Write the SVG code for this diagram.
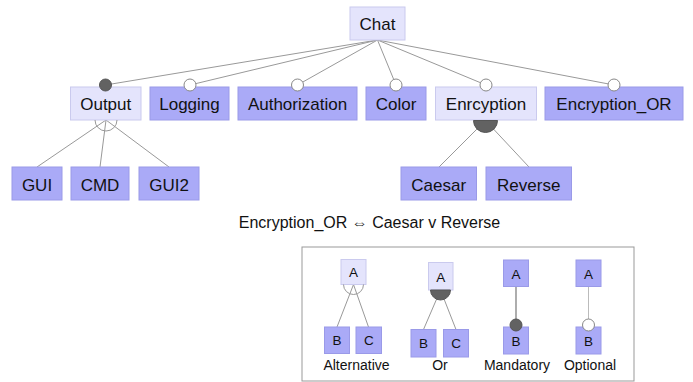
<svg xmlns="http://www.w3.org/2000/svg" width="693" height="382" viewBox="0 0 693 382">
<style>
.f{fill:#aaaaf7;stroke:#9a9ae8;stroke-width:1}
.l{fill:#e4e4fc;stroke:#cacaee;stroke-width:1}
.t{font-family:"Liberation Sans",Arial,sans-serif;font-size:17px;fill:#111;text-anchor:middle}
.s{font-family:"Liberation Sans",Arial,sans-serif;font-size:13.5px;fill:#111;text-anchor:middle}
.c{font-family:"Liberation Sans",Arial,sans-serif;font-size:14px;fill:#111;text-anchor:middle}
.e{stroke:#999;stroke-width:1;fill:none}
.opt{fill:#fff;stroke:#888;stroke-width:1}
.man{fill:#626262;stroke:#555;stroke-width:1}
</style>
<rect width="693" height="382" fill="#fff"/>
<g id="connectors">
<line class="e" x1="377.5" y1="40" x2="105.5" y2="85"/>
<line class="e" x1="377.5" y1="40" x2="190" y2="85"/>
<line class="e" x1="377.5" y1="40" x2="297.5" y2="85"/>
<line class="e" x1="377.5" y1="40" x2="396" y2="85"/>
<line class="e" x1="377.5" y1="40" x2="486" y2="85"/>
<line class="e" x1="377.5" y1="40" x2="614" y2="85"/>
<line class="e" x1="106" y1="120" x2="37" y2="167"/>
<line class="e" x1="106" y1="120" x2="100" y2="167"/>
<line class="e" x1="106" y1="120" x2="169" y2="167"/>
<line class="e" x1="485.5" y1="120.5" x2="439" y2="167"/>
<line class="e" x1="485.5" y1="120.5" x2="529" y2="167"/>
</g>
<g id="chat"><rect class="l" x="350" y="7" width="55" height="33"/><text class="t" x="377.5" y="30">Chat</text></g>
<g id="output"><rect class="l" x="70.5" y="87" width="70.5" height="33"/><text class="t" x="105.75" y="110">Output</text></g>
<g id="logging"><rect class="f" x="150" y="87" width="79" height="33"/><text class="t" x="189.5" y="110">Logging</text></g>
<g id="authorization"><rect class="f" x="238" y="87" width="119" height="33"/><text class="t" x="297.5" y="110">Authorization</text></g>
<g id="color"><rect class="f" x="366" y="87" width="60" height="33"/><text class="t" x="396" y="110">Color</text></g>
<g id="enrcyption"><rect class="l" x="435.5" y="87" width="101" height="33"/><text class="t" x="486" y="110">Enrcyption</text></g>
<g id="encryption_or"><rect class="f" x="545" y="87" width="138" height="33"/><text class="t" x="614" y="110">Encryption_OR</text></g>
<g id="gui"><rect class="f" x="12" y="167" width="50" height="33"/><text class="t" x="37" y="191">GUI</text></g>
<g id="cmd"><rect class="f" x="71" y="167" width="58" height="33"/><text class="t" x="100" y="191">CMD</text></g>
<g id="gui2"><rect class="f" x="139" y="167" width="60" height="33"/><text class="t" x="169" y="191">GUI2</text></g>
<g id="caesar"><rect class="f" x="401" y="167" width="75.5" height="33"/><text class="t" x="438.75" y="191">Caesar</text></g>
<g id="reverse"><rect class="f" x="486" y="167" width="85.5" height="33"/><text class="t" x="528.75" y="191">Reverse</text></g>
<g id="decorators">
<path class="e" d="M95,120 A11,11 0 0 0 117,120"/>
<path class="man" d="M473.5,120.5 A12,12 0 0 0 497.5,120.5 Z"/>
<circle class="man" cx="105.5" cy="85" r="6"/>
<circle class="opt" cx="190" cy="85" r="6"/>
<circle class="opt" cx="297.5" cy="85" r="6"/>
<circle class="opt" cx="396" cy="85" r="6"/>
<circle class="opt" cx="486" cy="85" r="6"/>
<circle class="opt" cx="614" cy="85" r="6"/>
</g>
<text class="t" x="369.5" y="228" style="font-size:16px">Encryption_OR ⇔ Caesar v Reverse</text>
<g id="legend">
<rect x="302" y="247" width="332" height="134" fill="#fff" stroke="#999" stroke-width="1"/>
<g id="legend-alternative">
<line class="e" x1="353.5" y1="284.5" x2="337" y2="327"/>
<line class="e" x1="353.5" y1="284.5" x2="368.5" y2="327"/>
<rect class="l" x="341" y="259.5" width="25" height="25"/><text class="s" x="353.5" y="277">A</text>
<path class="e" d="M343.5,284.5 A10,10 0 0 0 363.5,284.5"/>
<rect class="f" x="324.5" y="327" width="25" height="26.5"/><text class="s" x="337" y="345">B</text>
<rect class="f" x="356" y="327" width="25.5" height="26.5"/><text class="s" x="368.75" y="345">C</text>
<text class="c" x="356.5" y="370">Alternative</text>
</g>
<g id="legend-or">
<line class="e" x1="440.5" y1="290" x2="423.5" y2="329.5"/>
<line class="e" x1="440.5" y1="290" x2="456" y2="329.5"/>
<rect class="l" x="428.5" y="262.5" width="24.5" height="27.5"/><text class="s" x="440.75" y="282">A</text>
<path class="man" d="M430.5,290 A10,10 0 0 0 450.5,290 Z"/>
<rect class="f" x="411" y="329.5" width="25" height="27.5"/><text class="s" x="423.5" y="348">B</text>
<rect class="f" x="443.5" y="329.5" width="25" height="27.5"/><text class="s" x="456" y="348">C</text>
<text class="c" x="440" y="370">Or</text>
</g>
<g id="legend-mandatory">
<line x1="516" y1="286.5" x2="516" y2="327" stroke="#777" stroke-width="1.2"/>
<rect class="f" x="503.5" y="260" width="25" height="26.5"/><text class="s" x="516" y="279">A</text>
<rect class="f" x="503.5" y="327" width="25" height="27"/><text class="s" x="516" y="346">B</text>
<circle class="man" cx="516" cy="325" r="6"/>
<text class="c" x="517" y="370">Mandatory</text>
</g>
<g id="legend-optional">
<line x1="588.5" y1="286.5" x2="588.5" y2="327" stroke="#bbb" stroke-width="1"/>
<rect class="f" x="576" y="260" width="25" height="26.5"/><text class="s" x="588.5" y="279">A</text>
<rect class="f" x="576" y="327" width="25" height="27"/><text class="s" x="588.5" y="346">B</text>
<circle class="opt" cx="588.5" cy="325" r="6"/>
<text class="c" x="590" y="370">Optional</text>
</g>
</g>
</svg>
